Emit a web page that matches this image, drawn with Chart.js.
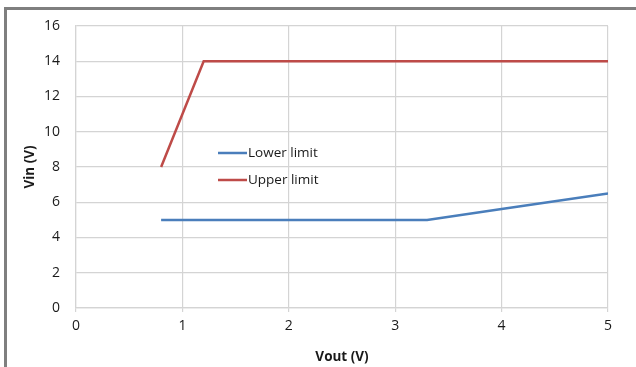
<!DOCTYPE html>
<html>
<head>
<meta charset="utf-8">
<script src="https://cdn.jsdelivr.net/npm/chart.js@4"></script>
<style>
    html, body { margin: 0; padding: 0; background: #fff; }
    #wrap { width: 636px; height: 367px; position: relative; }
</style>
</head>
<body>
<div id="wrap"><canvas id="chart" width="636" height="367"></canvas></div>
<script>
// datos
const lowerX = [0.8, 3.3, 4, 5];
const lowerY = [5, 5, 5.62, 6.5];
const upperX = [0.8, 1.2, 5];
const upperY = [8, 14, 14];
const seriesNames = ["Lower limit", "Upper limit"];
const seriesColors = ["#4a7ebb", "#be4b48"];

const FONT = "'Open Sans'";
const toPoints = (xs, ys) => xs.map((x, i) => ({ x: x, y: ys[i] }));

// marco gris y leyenda dentro del area
const extras = {
    id: "extras",
    beforeDraw(chart) {
        const ctx = chart.ctx;
        ctx.save();
        ctx.fillStyle = "#fff";
        ctx.fillRect(0, 0, chart.width, chart.height);
        ctx.strokeStyle = "#7f7f7f";
        ctx.lineWidth = 3;
        ctx.beginPath();
        ctx.moveTo(5.5, chart.height);
        ctx.lineTo(5.5, 8.5);
        ctx.lineTo(chart.width, 8.5);
        ctx.stroke();
        ctx.restore();
    },
    afterDraw(chart) {
        const ctx = chart.ctx;
        const a = chart.chartArea;
        ctx.save();
        ctx.font = "13.5px " + FONT;
        ctx.textBaseline = "middle";
        seriesNames.forEach((name, i) => {
            const y = a.top + 127 + i * 27;
            ctx.strokeStyle = seriesColors[i];
            ctx.lineWidth = 2.5;
            ctx.beginPath();
            ctx.moveTo(a.left + 142, y);
            ctx.lineTo(a.left + 171, y);
            ctx.stroke();
            ctx.fillStyle = "#1a1a1a";
            ctx.fillText(name, a.left + 172, y);
        });
        ctx.restore();
    }
};

new Chart(document.getElementById("chart"), {
    type: "line",
    data: {
        datasets: [
            {
                label: seriesNames[0],
                data: toPoints(lowerX, lowerY),
                borderColor: seriesColors[0],
                borderWidth: 2.5,
                pointRadius: 0,
                tension: 0
            },
            {
                label: seriesNames[1],
                data: toPoints(upperX, upperY),
                borderColor: seriesColors[1],
                borderWidth: 2.5,
                pointRadius: 0,
                tension: 0
            }
        ]
    },
    options: {
        responsive: false,
        animation: false,
        layout: { padding: { left: 10, top: 26, right: 28, bottom: 0 } },
        plugins: {
            legend: { display: false },
            tooltip: { enabled: false }
        },
        scales: {
            x: {
                type: "linear",
                min: 0,
                max: 5,
                ticks: { stepSize: 1, padding: 6, color: "#1a1a1a", font: { family: FONT, size: 14 } },
                grid: { color: "#d4d4d4", lineWidth: 1.2, tickLength: 4 },
                border: { color: "#d4d4d4", width: 1.2 },
                title: {
                    display: true,
                    text: "Vout (V)",
                    color: "#1a1a1a",
                    font: { family: FONT, size: 13.5, weight: "bold" },
                    padding: { top: 0, bottom: 2 }
                },
                afterFit(scale) { scale.height = 59; }
            },
            y: {
                min: 0,
                max: 16,
                ticks: { stepSize: 2, padding: 16, color: "#1a1a1a", font: { family: FONT, size: 14 } },
                grid: { color: "#d4d4d4", lineWidth: 1.2, drawTicks: false },
                border: { color: "#d4d4d4", width: 1.2 },
                title: {
                    display: true,
                    text: "Vin (V)",
                    color: "#1a1a1a",
                    font: { family: FONT, size: 13.5, weight: "bold" },
                    padding: { top: 12, bottom: 0 }
                },
                afterFit(scale) { scale.width = 66; }
            }
        }
    },
    plugins: [extras]
});
</script>
</body>
</html>
